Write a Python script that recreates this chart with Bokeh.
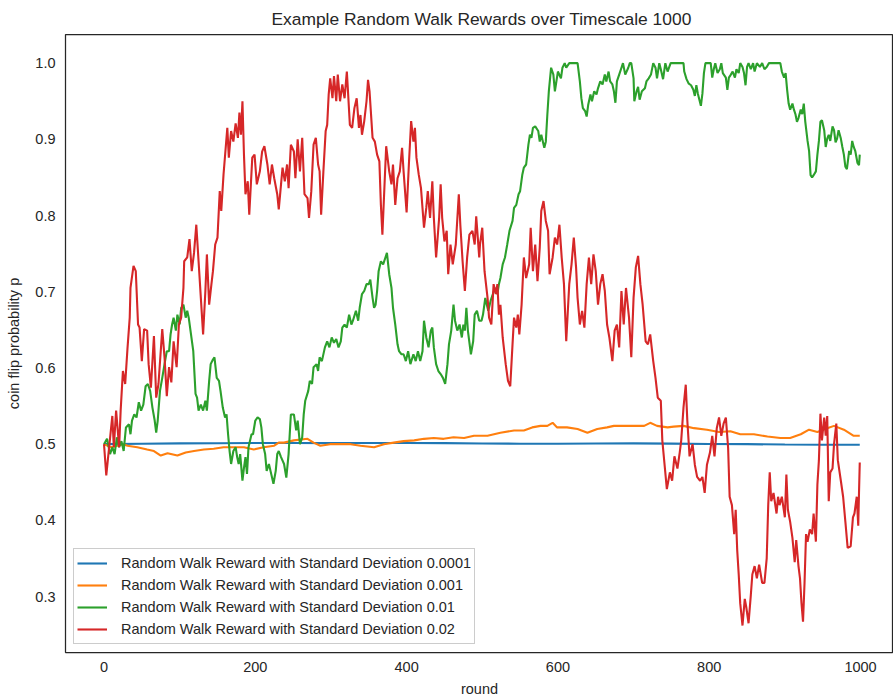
from bokeh.plotting import figure
from bokeh.models import Range1d, Legend, LegendItem, FixedTicker, PrintfTickFormatter
from bokeh.embed import file_html
from bokeh.resources import INLINE

# ---------------- data ----------------
title_text = "Example Random Walk Rewards over Timescale 1000"
x_label = "round"
y_label = "coin flip probability p"
series_labels = [
    "Random Walk Reward with Standard Deviation 0.0001",
    "Random Walk Reward with Standard Deviation 0.001",
    "Random Walk Reward with Standard Deviation 0.01",
    "Random Walk Reward with Standard Deviation 0.02",
]
x_ticks = [0, 200, 400, 600, 800, 1000]
y_ticks = [0.3, 0.4, 0.5, 0.6, 0.7, 0.8, 0.9, 1.0]

blue_round = [0, 50, 100, 150, 200, 250, 300, 350, 400, 450, 500, 550, 600, 650, 700, 750, 800, 850, 900, 950, 999]
blue_p = [0.500, 0.5005, 0.501, 0.5012, 0.5015, 0.5015, 0.5013, 0.5015, 0.5016, 0.5013, 0.5008,
          0.5006, 0.5005, 0.5008, 0.501, 0.5007, 0.5003, 0.500, 0.4995, 0.4993, 0.4992]

orange_round = [0, 9, 26, 31, 44, 57, 66, 75, 84, 97, 108, 119, 132, 145, 158, 172, 185, 198, 211, 225,
                231, 238, 251, 269, 277, 286, 299, 313, 326, 339, 357, 370, 383, 396, 410, 423, 436, 449, 462, 476,
                489, 507, 524, 542, 555, 566, 577, 586, 593, 599, 612, 626, 639, 652, 665, 674, 687, 700, 714, 722,
                731, 745, 753, 766, 780, 797, 813, 828, 841, 859, 877, 894, 907, 921, 932, 943, 956, 965, 978, 991,
                999]
orange_p = [0.500, 0.496, 0.500, 0.498, 0.496, 0.493, 0.491, 0.485, 0.488, 0.485,
            0.489, 0.491, 0.493, 0.494, 0.496, 0.496, 0.496, 0.493, 0.496, 0.498,
            0.502, 0.502, 0.505, 0.507, 0.502, 0.498, 0.500, 0.500, 0.500, 0.498,
            0.496, 0.500, 0.502, 0.504, 0.505, 0.507, 0.508, 0.507, 0.509, 0.508,
            0.511, 0.511, 0.515, 0.518, 0.518, 0.522, 0.524, 0.524, 0.528, 0.522,
            0.522, 0.520, 0.515, 0.520, 0.522, 0.524, 0.524, 0.524, 0.524, 0.528,
            0.524, 0.522, 0.523, 0.524, 0.521, 0.519, 0.516, 0.517, 0.513, 0.513,
            0.510, 0.508, 0.508, 0.513, 0.519, 0.516, 0.521, 0.524, 0.519, 0.511,
            0.511]

green_round = (
    [0, 4, 8, 11, 14, 17, 20, 23, 26, 29, 33, 35, 37, 40, 43, 46, 49, 52, 55, 58,
     61, 64, 67, 69, 71, 74, 77, 80, 83, 86, 88, 90, 92, 95, 97, 100, 102, 105, 108, 110,
     112, 115, 118, 121, 123, 125, 128, 131, 134, 136, 139, 141, 144, 146, 149, 152, 154, 157, 160, 162,
     164, 166, 168, 171, 174, 176, 178, 180, 183, 185, 187, 189, 191, 195, 197, 200, 203, 206, 208, 210,
     213, 215, 218, 221, 224, 227, 229, 231]
    + [234, 238, 241, 244, 247, 251, 254, 256, 259, 262, 264, 266, 270, 272, 275, 277, 281, 283, 285, 288,
       292, 295, 298, 301, 304, 307, 310, 313, 315, 318, 321, 324, 327, 329, 333, 336, 338, 341, 344, 347,
       350, 352, 355, 357, 359, 361, 363, 366, 369, 372, 374, 377, 380, 382, 385, 388, 390, 393, 396, 399,
       402, 405, 409, 412, 415, 418, 421, 423, 426, 429, 432, 434, 436, 439, 442, 445, 448, 451, 454, 456,
       459, 462, 464, 467, 470, 473, 475, 477, 479, 481, 485, 488, 490, 493, 496]
    + [499, 501, 504, 506, 508, 511, 514, 517, 520, 522, 524, 527, 530, 533, 536, 540, 542, 545, 548, 550,
       553, 555, 558, 561, 563, 565, 567, 570, 574, 576, 578, 582, 584, 586, 588, 591, 594, 596, 598, 600,
       604, 606, 609, 611, 615, 619, 623, 626, 629, 631, 633, 636, 638, 640, 643, 645, 648, 651, 653, 656,
       659, 662, 664, 667, 669, 672, 674, 676, 678, 681, 684, 686, 689, 693, 695, 697, 700, 701, 704, 706,
       708, 711, 715, 717, 720, 723, 726, 729, 731, 734, 736, 739, 742, 745, 749, 753, 758, 762, 766, 767,
       770, 773, 776, 779, 781, 783, 785, 789, 791, 793, 795, 798, 802, 804, 806, 808, 811, 814, 816, 818,
       822, 824, 826, 828, 831, 834, 836, 839, 841, 844, 846, 848, 850, 852, 855, 858, 860, 863, 867, 870,
       873, 876, 879, 882, 885, 889, 892, 894, 896, 899, 901, 903, 905, 907, 910, 912, 914, 916, 918, 921,
       923, 925, 927, 930, 932, 934, 936, 938, 941, 943, 945, 947, 949, 952, 954, 956, 958, 960, 963, 965,
       967, 969, 971, 974, 976, 978, 980, 982, 985, 987, 989, 991, 993, 996, 998, 999]
)
green_p = (
    [0.500, 0.507, 0.487, 0.496, 0.487, 0.509, 0.496, 0.504, 0.491, 0.522,
     0.526, 0.513, 0.531, 0.539, 0.535, 0.555, 0.544, 0.552, 0.576, 0.579,
     0.570, 0.548, 0.531, 0.515, 0.531, 0.570, 0.587, 0.605, 0.622, 0.622,
     0.644, 0.657, 0.666, 0.649, 0.670, 0.657, 0.679, 0.683, 0.666, 0.675,
     0.666, 0.644, 0.622, 0.566, 0.561, 0.544, 0.552, 0.544, 0.557, 0.544,
     0.583, 0.605, 0.611, 0.614, 0.587, 0.583, 0.570, 0.548, 0.535, 0.539,
     0.513, 0.491, 0.474, 0.491, 0.496, 0.483, 0.474, 0.487, 0.452, 0.469,
     0.483, 0.461, 0.496, 0.513, 0.513, 0.531, 0.535, 0.533, 0.522, 0.500,
     0.487, 0.465, 0.474, 0.461, 0.448, 0.465, 0.487, 0.491]
    + [0.483, 0.474, 0.456, 0.487, 0.539, 0.539, 0.518, 0.531, 0.500, 0.509,
       0.539, 0.557, 0.570, 0.583, 0.579, 0.601, 0.605, 0.596, 0.614, 0.609,
       0.627, 0.635, 0.627, 0.640, 0.633, 0.638, 0.627, 0.635, 0.653, 0.657,
       0.653, 0.670, 0.657, 0.662, 0.675, 0.662, 0.679, 0.697, 0.701, 0.710,
       0.710, 0.716, 0.692, 0.679, 0.683, 0.701, 0.727, 0.740, 0.736, 0.745,
       0.751, 0.723, 0.705, 0.679, 0.657, 0.631, 0.622, 0.618, 0.618, 0.609,
       0.622, 0.605, 0.618, 0.609, 0.622, 0.609, 0.622, 0.662, 0.640, 0.627,
       0.649, 0.653, 0.627, 0.605, 0.596, 0.592, 0.587, 0.579, 0.605, 0.631,
       0.649, 0.683, 0.662, 0.649, 0.657, 0.640, 0.657, 0.649, 0.679, 0.649,
       0.618, 0.635, 0.670, 0.675, 0.662]
    + [0.662, 0.670, 0.692, 0.683, 0.675, 0.688, 0.697, 0.705, 0.697, 0.710,
       0.718, 0.736, 0.745, 0.762, 0.780, 0.793, 0.810, 0.814, 0.828, 0.832,
       0.854, 0.863, 0.867, 0.893, 0.906, 0.902, 0.915, 0.917, 0.911, 0.897,
       0.906, 0.889, 0.897, 0.932, 0.963, 0.994, 0.985, 0.963, 0.976, 0.989,
       0.980, 0.994, 1.0, 0.994, 1.0, 1.0, 1.0, 1.0, 0.976, 0.954,
       0.941, 0.937, 0.930, 0.945, 0.959, 0.950, 0.963, 0.959, 0.967, 0.976,
       0.972, 0.985, 0.976, 0.989, 0.976, 0.972, 0.963, 0.948, 0.976, 0.985,
       0.994, 1.0, 0.985, 0.994, 1.0, 1.0, 0.980, 0.950, 0.963, 0.969,
       0.952, 0.963, 0.967, 0.976, 0.980, 0.985, 1.0, 0.994, 0.980, 1.0,
       0.992, 0.979, 1.0, 0.989, 1.0, 1.0, 1.0, 1.0, 1.0, 0.989,
       0.979, 0.973, 0.971, 0.965, 0.957, 0.971, 0.960, 0.944, 0.960, 0.987,
       1.0, 1.0, 1.0, 0.981, 0.992, 1.0, 0.987, 0.992, 1.0, 0.987,
       0.981, 0.965, 0.981, 0.984, 0.989, 0.981, 0.992, 0.987, 1.0, 0.995,
       0.987, 0.971, 0.995, 1.0, 0.992, 1.0, 0.989, 1.0, 0.995, 1.0,
       0.992, 0.995, 1.0, 1.0, 1.0, 1.0, 1.0, 1.0, 0.989, 0.981,
       0.987, 0.965, 0.947, 0.939, 0.947, 0.939, 0.933, 0.923, 0.928, 0.939,
       0.933, 0.947, 0.923, 0.898, 0.885, 0.853, 0.850, 0.853, 0.858, 0.880,
       0.898, 0.923, 0.925, 0.912, 0.890, 0.901, 0.906, 0.898, 0.917, 0.912,
       0.896, 0.901, 0.912, 0.901, 0.890, 0.880, 0.864, 0.861, 0.885, 0.880,
       0.898, 0.890, 0.885, 0.869, 0.866, 0.880]
)

red_round = (
    [0, 3, 11, 13, 16, 20, 22, 25, 28, 31, 34, 35, 39, 42, 45, 47, 50, 53, 57, 59,
     62, 66, 69, 72, 77, 80, 83, 86, 89, 92, 96, 99, 102, 105, 106, 110, 113, 116, 119, 122,
     125, 128, 131, 134, 136, 139, 142, 144, 147, 150, 153, 155, 158, 163, 165, 168, 171, 174, 177, 179,
     181, 183, 185, 187, 190, 192, 196, 199, 202, 206, 209, 212, 216, 219, 222, 225, 229, 231]
    + [236, 239, 242, 244, 247, 251, 253, 256, 259, 262, 265, 269, 271, 274, 277, 280, 283, 285, 287, 290,
       293, 295, 297, 299, 302, 304, 307, 309, 312, 315, 318, 321, 322, 325, 328, 331, 334, 337, 339, 341,
       344, 347, 349, 351, 355, 358, 361, 364, 366, 368, 371, 373, 377, 380, 382, 385, 388, 391, 394, 396,
       400, 403, 406, 409, 411, 413, 416, 419, 423, 426, 428, 431, 434, 436, 439, 443, 445, 447, 450, 453,
       455, 458, 461, 465, 469, 471, 474, 477, 480, 483, 487, 490, 492, 496]
    + [497, 500, 503, 507, 509, 512, 515, 518, 520, 522, 524, 527, 531, 534, 537, 540, 542, 545, 547, 549,
       552, 555, 558, 562, 564, 567, 570, 573, 576, 578, 581, 584, 587, 589, 593, 596, 599, 602, 605, 608,
       611, 615, 618, 621, 624, 626, 629, 632, 635, 638, 641, 644, 647, 650, 653, 656, 659, 662, 665, 668,
       672, 675, 678, 681, 684, 687, 690, 694, 697, 700, 703, 706, 709, 712, 716, 719, 722, 726, 729, 732,
       736]
    + [738, 741, 744, 748, 751, 754, 758, 761, 763, 766, 769, 771, 774, 778, 781, 784, 788, 791, 794, 797,
       801, 804, 807, 810, 813, 816, 819, 822, 825, 827, 830, 833, 835, 837, 839, 841, 844, 847, 849, 852,
       855, 857, 860, 863, 866, 870, 873, 876, 878, 880, 882, 885, 889, 891, 893, 896, 900, 902, 904, 907,
       910, 913, 915, 918, 920, 922, 924, 926, 928, 930, 933, 936, 938, 941, 943, 945, 947, 949, 952, 954,
       956, 958, 960, 963, 965, 968, 970, 974, 977, 980, 983, 987, 990, 992, 995, 997, 998, 999]
)
red_p = (
    [0.500, 0.459, 0.537, 0.496, 0.544, 0.496, 0.544, 0.596, 0.579, 0.625,
     0.666, 0.705, 0.734, 0.727, 0.657, 0.653, 0.609, 0.651, 0.649, 0.605,
     0.574, 0.642, 0.561, 0.579, 0.651, 0.614, 0.563, 0.601, 0.581, 0.635,
     0.601, 0.657, 0.666, 0.705, 0.740, 0.745, 0.769, 0.727, 0.751, 0.788,
     0.740, 0.692, 0.644, 0.701, 0.749, 0.683, 0.710, 0.727, 0.762, 0.771,
     0.832, 0.806, 0.854, 0.915, 0.876, 0.911, 0.897, 0.921, 0.902, 0.935,
     0.906, 0.950, 0.880, 0.828, 0.845, 0.801, 0.876, 0.880, 0.841, 0.858,
     0.884, 0.891, 0.867, 0.841, 0.867, 0.849, 0.828, 0.808]
    + [0.863, 0.845, 0.867, 0.836, 0.893, 0.884, 0.849, 0.900, 0.858, 0.902,
       0.828, 0.823, 0.797, 0.832, 0.893, 0.902, 0.867, 0.858, 0.801, 0.858,
       0.911, 0.919, 0.959, 0.980, 0.954, 0.983, 0.950, 0.985, 0.950, 0.972,
       0.954, 0.989, 0.972, 0.919, 0.915, 0.941, 0.954, 0.915, 0.932, 0.906,
       0.924, 0.950, 0.978, 0.963, 0.902, 0.897, 0.880, 0.871, 0.814, 0.775,
       0.845, 0.891, 0.858, 0.841, 0.867, 0.814, 0.849, 0.858, 0.889, 0.858,
       0.804, 0.867, 0.924, 0.897, 0.915, 0.876, 0.854, 0.836, 0.784, 0.810,
       0.832, 0.797, 0.845, 0.797, 0.745, 0.797, 0.841, 0.797, 0.766, 0.780,
       0.723, 0.762, 0.736, 0.762, 0.828, 0.788, 0.740, 0.701, 0.745, 0.775,
       0.780, 0.762, 0.799, 0.745]
    + [0.762, 0.784, 0.727, 0.692, 0.666, 0.657, 0.710, 0.697, 0.710, 0.670,
       0.683, 0.640, 0.605, 0.583, 0.576, 0.631, 0.666, 0.653, 0.670, 0.644,
       0.683, 0.745, 0.718, 0.736, 0.784, 0.727, 0.762, 0.714, 0.758, 0.806,
       0.819, 0.793, 0.780, 0.723, 0.745, 0.771, 0.762, 0.788, 0.745, 0.710,
       0.635, 0.710, 0.736, 0.771, 0.732, 0.692, 0.657, 0.675, 0.653, 0.710,
       0.745, 0.710, 0.749, 0.727, 0.683, 0.710, 0.723, 0.701, 0.657, 0.640,
       0.609, 0.649, 0.657, 0.627, 0.701, 0.657, 0.705, 0.666, 0.614, 0.692,
       0.732, 0.747, 0.710, 0.683, 0.635, 0.631, 0.644, 0.609, 0.587, 0.561,
       0.557]
    + [0.505, 0.473, 0.441, 0.463, 0.452, 0.484, 0.468, 0.489, 0.505, 0.548,
       0.578, 0.532, 0.484, 0.500, 0.473, 0.457, 0.452, 0.457, 0.436, 0.473,
       0.489, 0.511, 0.484, 0.521, 0.535, 0.511, 0.527, 0.535, 0.495, 0.431,
       0.420, 0.382, 0.414, 0.361, 0.329, 0.291, 0.262, 0.297, 0.286, 0.265,
       0.302, 0.329, 0.340, 0.324, 0.342, 0.318, 0.318, 0.350, 0.420, 0.463,
       0.425, 0.436, 0.409, 0.431, 0.420, 0.431, 0.404, 0.460, 0.414, 0.398,
       0.377, 0.345, 0.374, 0.340, 0.324, 0.291, 0.267, 0.318, 0.382, 0.372,
       0.388, 0.382, 0.409, 0.372, 0.447, 0.479, 0.540, 0.505, 0.535, 0.511,
       0.537, 0.425, 0.463, 0.468, 0.500, 0.527, 0.479, 0.452, 0.431, 0.398,
       0.364, 0.366, 0.404, 0.409, 0.431, 0.393, 0.436, 0.476]
)

colors = ["#1f77b4", "#ff7f0e", "#2ca02c", "#d62728"]

# ---------------- figure ----------------
FONT = "Liberation Sans"
TXT = "#262626"

p = figure(width=893, height=700, output_backend="svg", toolbar_location=None,
           x_range=Range1d(-50.9, 1043.6), y_range=Range1d(0.2266, 1.0376),
           min_border_left=65, min_border_right=0, min_border_top=33, min_border_bottom=48)
p.background_fill_color = "white"
p.border_fill_color = "white"
p.outline_line_color = TXT
p.outline_line_width = 1.25
p.grid.visible = False

p.title.text = title_text
p.title.align = "left"
p.title.offset = 206
p.title.text_font = FONT
p.title.text_font_size = "17.4px"
p.title.text_font_style = "normal"
p.title.text_color = TXT
p.title.standoff = 12

for ax in (p.xaxis[0], p.yaxis[0]):
    ax.axis_line_color = None
    ax.major_tick_line_color = None
    ax.minor_tick_line_color = None
    ax.major_tick_in = 0
    ax.major_tick_out = 0
    ax.major_label_text_font = FONT
    ax.major_label_text_font_size = "14.5px"
    ax.major_label_text_color = TXT
    ax.axis_label_text_font = FONT
    ax.axis_label_text_font_size = "14.5px"
    ax.axis_label_text_font_style = "normal"
    ax.axis_label_text_color = TXT

p.xaxis.ticker = FixedTicker(ticks=x_ticks)
p.xaxis.major_label_standoff = 9
p.xaxis.axis_label = x_label
p.xaxis.axis_label_standoff = 6
p.yaxis.ticker = FixedTicker(ticks=y_ticks)
p.yaxis.formatter = PrintfTickFormatter(format="%.1f")
p.yaxis.major_label_standoff = 10
p.yaxis.axis_label = y_label
p.yaxis.axis_label_standoff = 10

series = [(blue_round, blue_p), (orange_round, orange_p), (green_round, green_p), (red_round, red_p)]
items = []
for (xs, ys), c, lab in zip(series, colors, series_labels):
    r = p.line(xs, ys, line_color=c, line_width=2.1)
    items.append(LegendItem(label=lab, renderers=[r]))

legend = Legend(items=items, location="bottom_left", margin=8, padding=3, spacing=0,
                label_height=22, glyph_height=22, glyph_width=30, label_standoff=14,
                label_text_font=FONT, label_text_font_size="14.5px", label_text_color=TXT,
                border_line_color="#cccccc", border_line_width=1, border_line_alpha=1.0,
                background_fill_color="white", background_fill_alpha=0.8)
p.add_layout(legend)

open("out.html", "w").write(file_html(p, INLINE))
